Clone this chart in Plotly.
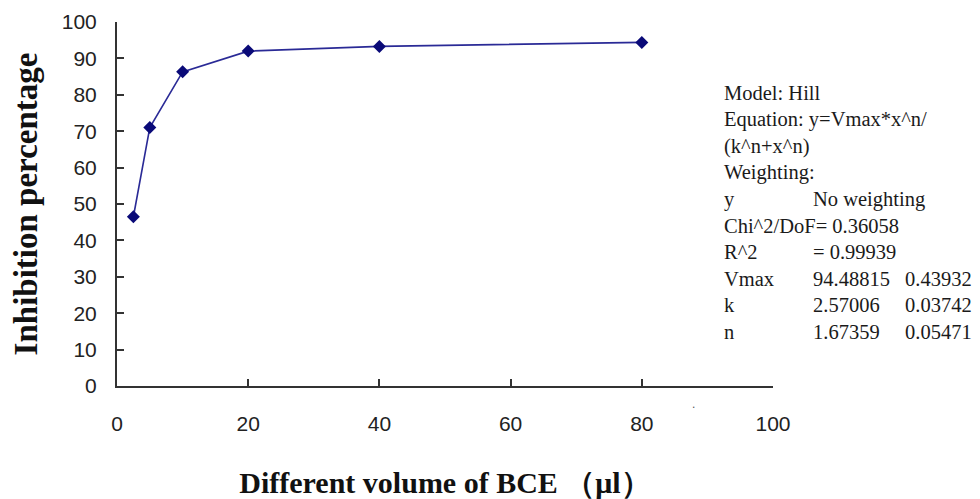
import plotly.graph_objects as go

# ---- data ----
volumes = [2.5, 5, 10, 20, 40, 80]
inhibition = [46.5, 71.0, 86.3, 92.0, 93.3, 94.4]

x_ticks = [0, 20, 40, 60, 80, 100]
y_ticks = [0, 10, 20, 30, 40, 50, 60, 70, 80, 90, 100]

fit_labels = ["Model: Hill", "Equation: y=Vmax*x^n/", "(k^n+x^n)", "Weighting:",
              "y", "Chi^2/DoF= 0.36058", "R^2", "Vmax", "k", "n"]
fit_values = ["", "", "", "", "No weighting", "", "= 0.99939", "94.48815", "2.57006", "1.67359"]
fit_errors = ["", "", "", "", "", "", "", "0.43932", "0.03742", "0.05471"]

# ---- layout geometry (page pixels; page body has an 8px margin) ----
OFF = 8
W, H = 980 - OFF, 499 - OFF
PL, PR, PT, PB = 117, 773, 22, 386          # plot area in page pixels
L, R, T, B = PL - OFF, W + OFF - PR, PT - OFF, H + OFF - PB
pw, ph = PR - PL, PB - PT


def px(xp):
    return (xp - PL) / pw


def py(yp):
    return (PB - yp) / ph


fig = go.Figure()
fig.add_trace(go.Scatter(
    x=volumes, y=inhibition, mode="lines+markers",
    line=dict(color="#2a2a96", width=1.6),
    marker=dict(symbol="diamond", size=10, color="#0a0a78"),
    showlegend=False, cliponaxis=False,
))

serif = "Times New Roman, Liberation Serif, serif"
sans = "Arial, Liberation Sans, sans-serif"

annotations = []
line_y0, line_dy = 93, 26.5
col_x = [722, 811, 903]
for i, (a, b, c) in enumerate(zip(fit_labels, fit_values, fit_errors)):
    yy = py(line_y0 + i * line_dy)
    for txt, xx in zip((a, b, c), col_x):
        if txt:
            annotations.append(dict(
                text=txt, x=px(xx), y=yy, xref="paper", yref="paper",
                xanchor="left", yanchor="middle", showarrow=False,
                font=dict(family=serif, size=20.5, color="#1a1a1a"),
            ))
annotations.append(dict(
    text=".", x=px(693), y=py(404), xref="paper", yref="paper",
    xanchor="center", yanchor="middle", showarrow=False,
    font=dict(family=sans, size=12, color="#555"),
))

fig.update_layout(
    width=W, height=H,
    margin=dict(l=L, r=R, t=T, b=B, pad=0),
    plot_bgcolor="white", paper_bgcolor="white",
    annotations=annotations,
    xaxis=dict(
        range=[0, 100], tickvals=x_ticks, ticktext=[str(v) for v in x_ticks],
        showline=True, linecolor="#333", linewidth=2,
        ticks="inside", ticklen=7, tickwidth=1.5, tickcolor="#333",
        showgrid=False, zeroline=False,
        tickfont=dict(family=sans, size=21, color="#222"),
        ticklabelstandoff=18,
        title=dict(text="Different volume of BCE （μl）", standoff=49,
                   font=dict(family=serif, size=30, color="#111", weight="bold")),
        automargin=False,
    ),
    yaxis=dict(
        range=[0, 100], tickvals=y_ticks, ticktext=[str(v) for v in y_ticks],
        showline=True, linecolor="#333", linewidth=2,
        ticks="inside", ticklen=7, tickwidth=1.5, tickcolor="#333",
        showgrid=False, zeroline=False,
        tickfont=dict(family=sans, size=21, color="#222"),
        ticklabelstandoff=14,
        title=dict(text="Inhibition percentage", standoff=14,
                   font=dict(family=serif, size=33, color="#111", weight="bold")),
        automargin=False,
    ),
)

fig.write_html("out.html")
